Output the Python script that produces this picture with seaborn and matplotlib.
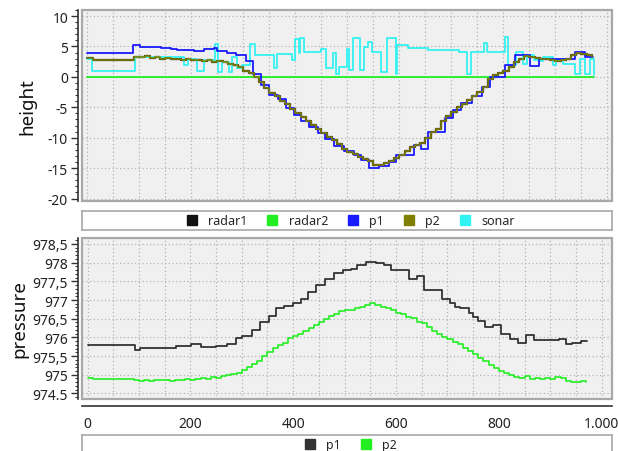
import numpy as np
import pandas as pd
import matplotlib
matplotlib.use("Agg")
import matplotlib.pyplot as plt
from matplotlib.patches import Rectangle
from matplotlib.lines import Line2D
from matplotlib.ticker import MultipleLocator
import seaborn as sns

# ---- height plot data ----
p1_h_x = [0, 88, 102, 141, 161, 173, 205, 225, 244, 250, 269, 285, 305, 319, 333,
          350, 366, 382, 398, 411, 427, 443, 456, 475, 494, 513, 526, 542, 561, 580,
          593, 628, 641, 656, 688, 704, 719, 740, 758, 775, 804, 823, 839, 852, 868,
          938, 957, 972]
p1_h = [4.0, 5.3, 4.9, 4.8, 4.6, 4.4, 4.3, 4.55, 4.8, 4.2, 4.0, 3.6, 2.6, 0.5, -1.3,
        -2.9, -3.7, -5.1, -6.2, -7.3, -8.2, -9.3, -10.2, -11.4, -12.1, -12.9, -13.6, -15.0, -14.7, -14.0,
        -12.8, -11.2, -11.9, -9.0, -6.8, -5.5, -4.3, -3.1, -1.6, 0.0, 1.9, 3.6, 3.6, 1.8, 2.9,
        4.1, 3.3, 3.3]

p2_h_x = list(range(0, 980, 10))
p2_h = [3.1, 2.7, 2.7, 2.7, 2.7, 2.7, 2.7, 2.7, 2.7, 3.3,
        3.2, 3.4, 3.1, 3.2, 3.0, 3.1, 2.9, 3.0, 2.8, 2.9,
        2.7, 2.8, 2.6, 2.7, 2.5, 2.6, 2.4, 2.2, 2.0, 1.6,
        1.0, 0.6, 0.0, -0.9, -1.8, -2.7, -3.2, -3.9, -4.5, -5.3,
        -5.9, -6.6, -7.3, -7.9, -8.5, -9.2, -9.8, -10.4, -11.0, -11.8,
        -12.3, -12.7, -13.1, -13.5, -13.9, -14.4, -14.5, -14.1, -13.8, -13.3,
        -12.9, -12.2, -11.5, -11.2, -10.9, -10.0, -9.0, -8.6, -7.3, -6.5,
        -5.7, -5.0, -4.4, -3.8, -3.1, -2.4, -1.6, -0.3, 0.3, 0.6,
        1.0, 1.6, 2.4, 3.0, 3.4, 3.2, 3.1, 2.9, 3.0, 2.7,
        2.6, 2.8, 3.0, 3.6, 3.9, 3.7, 3.6, 3.3]
radar1_h_x = p2_h_x  # radar1 sits hidden under p2 in the reference
radar1_h = p2_h

radar2_h_x = [0, 975]
radar2_h = [0.0, 0.0]

sonar_x = [0, 8, 92, 185, 194, 210, 224, 245, 252, 258, 272, 278, 288, 298, 313,
           323, 358, 364, 393, 400, 406, 409, 416, 449, 459, 472, 478, 484, 500, 504,
           510, 525, 532, 539, 548, 564, 577, 593, 596, 616, 625, 656, 714, 730, 737,
           763, 769, 804, 809, 824, 838, 845, 858, 870, 877, 896, 902, 915, 937, 947,
           957, 967, 975]
sonar = [3.0, 0.9, 3.2, 1.9, 3.0, 1.0, 2.8, 5.4, 0.8, 2.4, 0.8, 3.3, 1.5, 1.9, 5.4,
         3.6, 1.4, 3.7, 2.8, 6.3, 4.0, 6.4, 4.1, 4.6, 1.4, 4.0, 0.5, 1.6, 4.6, 1.1,
         6.4, 1.1, 4.9, 5.8, 4.1, 0.8, 6.4, 0.5, 5.2, 4.8, 4.7, 4.5, 4.1, 0.4, 4.1,
         5.5, 4.1, 6.6, 1.9, 4.1, 2.2, 3.6, 2.8, 2.6, 3.2, 1.9, 2.8, 2.2, 0.5, 3.0,
         0.5, 3.0, 0.3]

# ---- pressure plot data ----
p1_p_x = [0, 92, 103, 172, 201, 221, 250, 272, 288, 301, 319, 335, 353, 367, 383,
          400, 416, 429, 445, 461, 480, 496, 512, 525, 541, 561, 577, 590, 625, 641,
          655, 689, 705, 715, 724, 741, 750, 760, 773, 789, 805, 821, 837, 853, 869,
          917, 930, 943, 959, 972]
p1_p = [975.80, 975.66, 975.71, 975.78, 975.82, 975.73, 975.78, 975.82, 975.98, 976.03,
        976.20, 976.40, 976.58, 976.79, 976.84, 976.92, 977.03, 977.21, 977.39, 977.57,
        977.73, 977.80, 977.84, 977.93, 978.02, 977.98, 977.93, 977.80, 977.57, 977.64,
        977.26, 977.03, 976.92, 976.81, 976.78, 976.65, 976.54, 976.45, 976.29, 976.32,
        976.09, 975.96, 975.84, 976.07, 975.93, 975.96, 975.82, 975.86, 975.89, 975.89]

p2_p_x = list(range(0, 980, 10))
p2_p = [974.90, 974.88, 974.88, 974.88, 974.88, 974.88, 974.88, 974.88, 974.88, 974.87,
        974.84, 974.86, 974.83, 974.87, 974.85, 974.86, 974.84, 974.87, 974.86, 974.88,
        974.86, 974.89, 974.90, 974.89, 974.93, 974.92, 974.96, 974.98, 975.02, 975.05,
        975.13, 975.20, 975.30, 975.36, 975.50, 975.62, 975.72, 975.80, 975.86, 975.98,
        976.04, 976.08, 976.18, 976.26, 976.34, 976.42, 976.50, 976.56, 976.62, 976.70,
        976.74, 976.72, 976.78, 976.80, 976.86, 976.92, 976.86, 976.82, 976.78, 976.72,
        976.66, 976.62, 976.55, 976.52, 976.42, 976.38, 976.28, 976.18, 976.10, 976.02,
        975.95, 975.88, 975.82, 975.72, 975.63, 975.55, 975.44, 975.36, 975.26, 975.18,
        975.10, 975.04, 974.99, 974.95, 974.92, 974.96, 974.89, 974.91, 974.89, 974.92,
        974.88, 974.95, 974.90, 974.82, 974.80, 974.81, 974.84, 974.81]

height_labels = ["radar1", "radar2", "p1", "p2", "sonar"]
height_colors = ["#111111", "#22ee22", "#1a1aff", "#808000", "#33f2f2"]
pressure_labels = ["p1", "p2"]
pressure_colors = ["#333333", "#22ee22"]

y_p_ticks = [974.5, 975, 975.5, 976, 976.5, 977, 977.5, 978, 978.5]
y_p_ticklabels = ["974.5", "975", "975,5", "976", "976,5", "977", "977,5", "978", "978,5"]
x_ticks = [0, 200, 400, 600, 800, 1000]
x_ticklabels = ["0", "200", "400", "600", "800", "1.000"]

sns.set_theme(style="white")
plt.rcParams["font.family"] = ["Noto Sans", "DejaVu Sans"]
plt.rcParams["axes.unicode_minus"] = False

W, H = 618, 452
fig = plt.figure(figsize=(W / 100, H / 100), dpi=100)
fig.patch.set_facecolor("white")


def box(l, t, r, b):
    return [l / W, 1 - b / H, (r - l) / W, (b - t) / H]


def frame(ax):
    ax.add_patch(Rectangle((0, 0), 1, 1, transform=ax.transAxes, fill=False,
                           edgecolor="#a8a8a8", lw=1.6, clip_on=False, zorder=5))


def style_plot(ax):
    ax.set_facecolor("#f0f0f0")
    for s in ["top", "right", "bottom"]:
        ax.spines[s].set_visible(False)
    ax.spines["left"].set_position(("outward", 3))
    ax.spines["left"].set_color("#333333")
    ax.spines["left"].set_linewidth(1.2)
    ax.tick_params(axis="y", which="major", direction="out", length=5, width=1,
                   color="#333333", labelsize=10, pad=2, left=True,
                   labelcolor="#222222")
    ax.tick_params(axis="y", which="minor", direction="out", length=2.5, width=0.8,
                   color="#333333", left=True)
    ax.grid(True, which="major", linestyle=(0, (1, 2)), color="#b4b4b4", lw=0.9)
    frame(ax)


def step(ax, x, y, color, lw=1.2, z=2):
    sns.lineplot(x=x, y=y, ax=ax, color=color, lw=lw, drawstyle="steps-post",
                 estimator=None, sort=False, zorder=z)


def legend_box(rect, labels, colors):
    lax = fig.add_axes(rect)
    lax.set_xticks([])
    lax.set_yticks([])
    for s in lax.spines.values():
        s.set_color("#a8a8a8")
        s.set_linewidth(1.2)
    handles = [Line2D([], [], marker="s", ls="none", color=c, markersize=7) for c in colors]
    lax.legend(handles, labels, loc="center", ncol=len(labels), frameon=False,
               fontsize=9, handletextpad=0.3, columnspacing=1.0, borderpad=0)


# ---- top: height ----
ax1 = fig.add_axes(box(82, 11, 612, 202))
style_plot(ax1)
step(ax1, radar1_h_x, radar1_h, height_colors[0], lw=1.6, z=2)
step(ax1, radar2_h_x, radar2_h, height_colors[1], lw=1.3, z=3)
step(ax1, sonar_x, sonar, height_colors[4], lw=1.3, z=3)
step(ax1, p1_h_x, p1_h, height_colors[2], lw=1.3, z=4)
step(ax1, p2_h_x, p2_h, height_colors[3], lw=1.2, z=5)
ax1.set_xlim(-10.5, 1009)
ax1.set_ylim(-20.4, 11.0)
ax1.xaxis.set_major_locator(MultipleLocator(50))
ax1.tick_params(axis="x", bottom=False, labelbottom=False)
ax1.yaxis.set_major_locator(MultipleLocator(5))
ax1.yaxis.set_minor_locator(MultipleLocator(1))
ax1.set_ylabel("height", fontsize=13.5, labelpad=8, color="#111111")
ax1.set_xlabel("")

legend_box(box(82, 212, 612, 231), height_labels, height_colors)

# ---- bottom: pressure ----
ax2 = fig.add_axes(box(82, 239, 612, 400))
style_plot(ax2)
step(ax2, p1_p_x, p1_p, pressure_colors[0], lw=1.3, z=3)
step(ax2, p2_p_x, p2_p, pressure_colors[1], lw=1.2, z=3)
ax2.set_xlim(-10.7, 1020)
ax2.set_ylim(974.35, 978.66)
ax2.set_yticks(y_p_ticks, y_p_ticklabels)
ax2.yaxis.set_minor_locator(MultipleLocator(0.1))
ax2.xaxis.set_major_locator(MultipleLocator(50))
ax2.tick_params(axis="x", bottom=False, labelbottom=False)
ax2.set_ylabel("pressure", fontsize=13.5, labelpad=3, color="#111111")
ax2.set_xlabel("")

# separate x axis under the pressure plot
axx = fig.add_axes(box(82, 406, 612, 407))
axx.set_facecolor("none")
for s in ["top", "right", "left"]:
    axx.spines[s].set_visible(False)
axx.spines["bottom"].set_color("#333333")
axx.spines["bottom"].set_linewidth(1.2)
axx.set_xlim(-10.7, 1020)
axx.set_yticks([])
axx.set_xticks(x_ticks, x_ticklabels)
axx.xaxis.set_minor_locator(MultipleLocator(50))
axx.tick_params(axis="x", which="major", direction="inout", length=9, width=1,
                color="#333333", labelsize=10, pad=3, labelcolor="#222222")
axx.tick_params(axis="x", which="minor", direction="in", length=4, width=1,
                color="#333333")

legend_box(box(82, 436, 612, 456), pressure_labels, pressure_colors)

fig.savefig("out.png", dpi=100, facecolor="white")
